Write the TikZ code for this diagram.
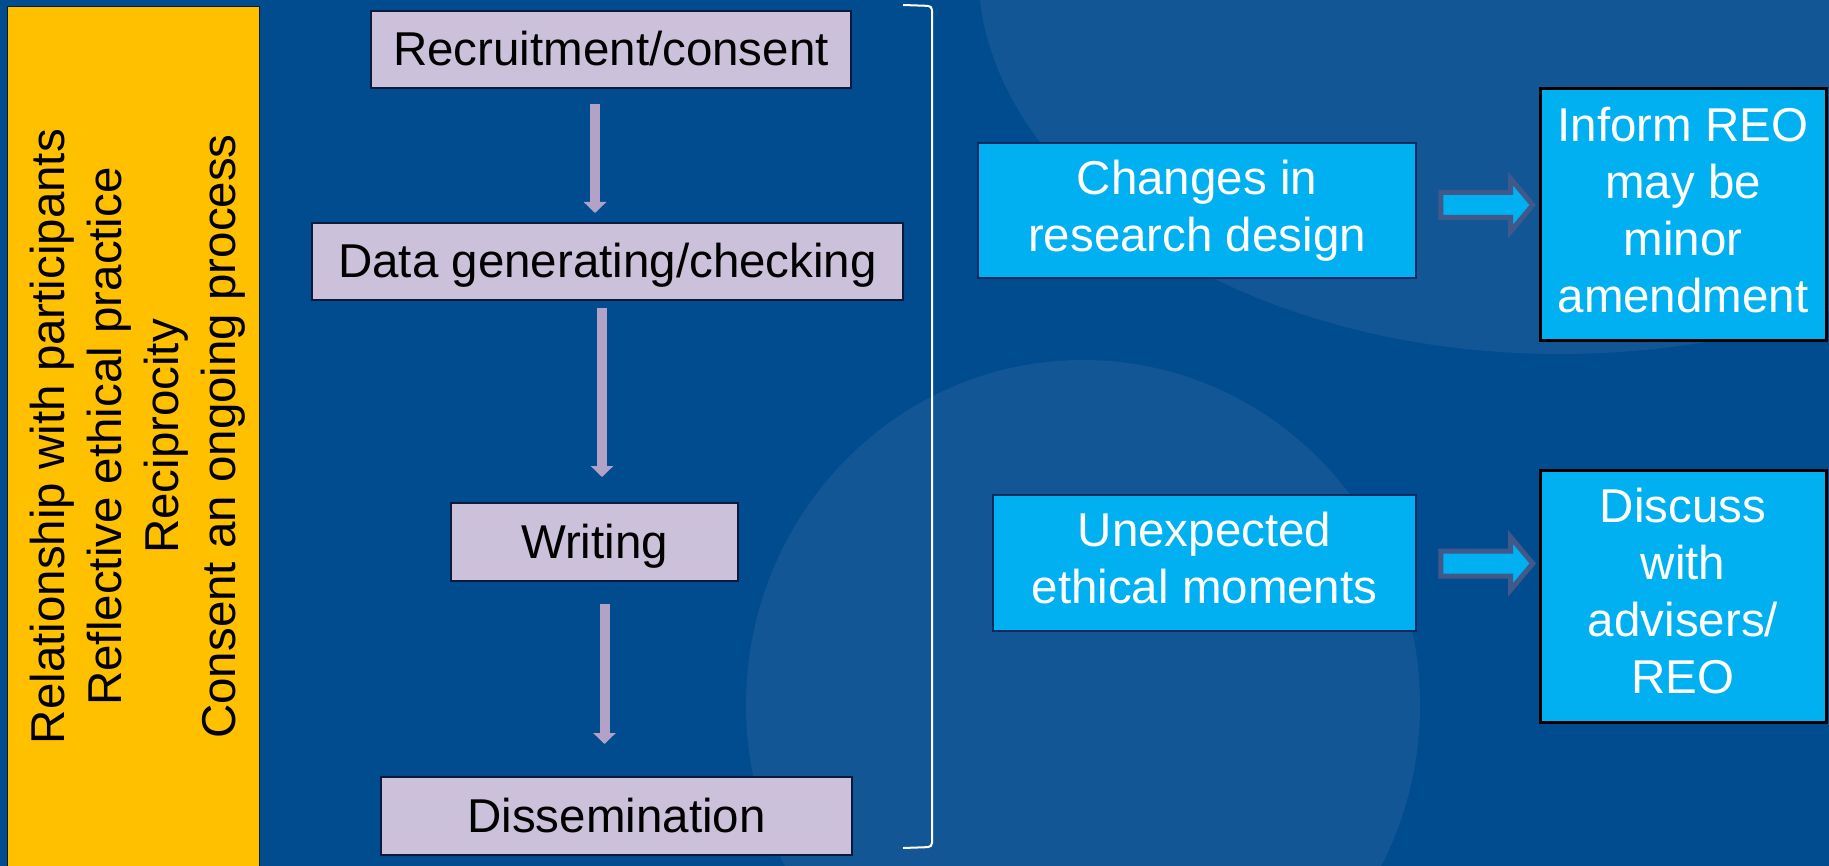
\documentclass[tikz,border=0pt]{standalone}
\usepackage{fontspec}
\setmainfont{Liberation Sans}
\usetikzlibrary{arrows.meta,shapes.arrows}
\newcommand{\lnstrut}{\rule[-0.212em]{0pt}{1.117em}}
\newcommand{\slidefont}{\fontsize{47.5}{57}\selectfont}
\begin{document}
\begin{tikzpicture}[x=1pt, y=-1pt,
  stagebox/.style={draw=stageline, line width=2pt, fill=stagefill, inner sep=0pt,
    font=\slidefont, text=black, execute at begin node=\lnstrut},
  eventbox/.style={draw=eventline, line width=2pt, fill=cyanfill, inner sep=0pt,
    minimum width=#1, font=\slidefont, text=white, align=center,
    execute at begin node=\lnstrut, execute at end node=\lnstrut},
  actionbox/.style={eventbox=286pt, draw=black, line width=3pt, minimum height=252pt},
  flowarrow/.style={draw=flowcol, line width=10pt, -{Triangle[width=22pt,length=11pt]}},
  blockarrow/.style={single arrow, draw=blockline, fill=cyanfill, line width=5pt,
    inner sep=10pt, minimum height=92pt, single arrow head extend=14pt,
    single arrow tip angle=100}]
\definecolor{bgcol}{HTML}{004C8F}
\definecolor{glowcol}{HTML}{125696}
\definecolor{sidecol}{HTML}{FFC000}
\definecolor{stagefill}{HTML}{CCC1DA}
\definecolor{stageline}{HTML}{0B1A3C}
\definecolor{flowcol}{HTML}{B3A2C7}
\definecolor{cyanfill}{HTML}{00B0F0}
\definecolor{eventline}{HTML}{0C2A62}
\definecolor{blockline}{HTML}{41598A}
\useasboundingbox (0,0) rectangle (1829,866);
\clip (0,0) rectangle (1829,866);
% background
\fill[bgcol] (0,0) rectangle (1829,866);
\fill[glowcol] (1560,-31) ellipse [x radius=582pt, y radius=385pt];
\fill[glowcol] (1083,705) ellipse [x radius=337pt, y radius=345pt];
% side panel
\draw[fill=sidecol, draw=stageline, line width=1pt] (7,7) rectangle (259,890);
\node[rotate=90, align=center, font=\slidefont, text=black] (ethics) at (138,436.5)
  {Relationship with participants\\Reflective ethical practice\\Reciprocity\\Consent an ongoing process};
% research stages
\node[stagebox, minimum width=480pt, minimum height=77pt] (rec) at (611,49.5) {Recruitment/consent};
\node[stagebox, minimum width=591pt, minimum height=77pt] (data) at (607.5,261.5) {Data generating/checking};
\node[stagebox, minimum width=287pt, minimum height=78pt] (wri) at (594.5,542) {Writing};
\node[stagebox, minimum width=471pt, minimum height=78pt] (dis) at (616.5,816) {Dissemination};
\draw[flowarrow, shorten <=15pt, shorten >=9pt] ([xshift=-16pt]rec.south) -- ([xshift=-16pt]rec.south |- data.north);
\draw[flowarrow, shorten <=7pt, shorten >=25pt] ([xshift=-5.5pt]data.south) -- ([xshift=-5.5pt]data.south |- wri.north);
\draw[flowarrow, shorten <=22pt, shorten >=32pt] ([xshift=10pt]wri.south) -- ([xshift=10pt]wri.south |- dis.north);
% bracket
\draw[white, line width=2pt, rounded corners=4pt] (903,5) -- (932,6) -- (932,847) -- (903,848);
% events and actions
\node[eventbox=438pt, minimum height=135pt] (chg) at (1197,210.5) {Changes in\\research design};
\node[eventbox=423pt, minimum height=136pt] (unx) at (1204.5,563) {Unexpected\\ethical moments};
\node[actionbox] (inf) at (1683,215) {Inform REO\\may be\\minor\\amendment};
\node[actionbox] (dsc) at (1683,596) {Discuss\\with\\advisers/\\REO};
\node[blockarrow] (ar1) at (1481.5,205) {};
\node[blockarrow] (ar2) at (1481.5,563.5) {};
\end{tikzpicture}
\end{document}
